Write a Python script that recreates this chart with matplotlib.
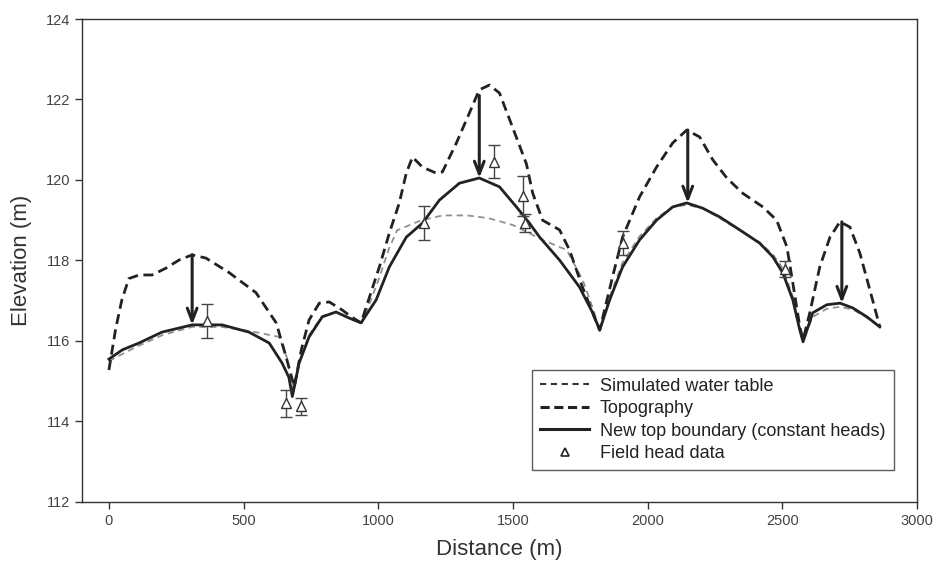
import matplotlib
matplotlib.use("Agg")
import matplotlib.pyplot as plt
from matplotlib.lines import Line2D

plt.rcParams['font.family'] = ['Liberation Sans', 'DejaVu Sans']

# topography (long dashed line)
topo_x = [0, 25, 48, 74, 112, 160, 212, 260, 309, 360, 446, 546, 621, 658, 688,
          715, 743, 781, 818, 866, 900, 936, 1004, 1041, 1078, 1104, 1127, 1164,
          1215, 1238, 1290, 1338, 1375, 1413, 1450, 1498, 1550, 1573, 1610, 1673,
          1710, 1758, 1796, 1822, 1870, 1907, 1970, 2033, 2093, 2145, 2193, 2242,
          2294, 2353, 2428, 2479, 2517, 2539, 2565, 2577, 2602, 2639, 2677, 2714,
          2751, 2788, 2825, 2862]
topo_y = [115.28, 116.3, 117.02, 117.55, 117.64, 117.64, 117.81, 118.01, 118.14,
          118.06, 117.7, 117.2, 116.45, 115.6, 114.86, 115.8, 116.52, 116.94,
          116.97, 116.77, 116.6, 116.45, 117.84, 118.68, 119.43, 120.17, 120.57,
          120.32, 120.17, 120.2, 120.92, 121.66, 122.24, 122.36, 122.16, 121.32,
          120.4, 119.68, 119.0, 118.76, 118.26, 117.34, 116.7, 116.27, 117.6,
          118.58, 119.58, 120.32, 120.92, 121.24, 121.07, 120.5, 120.05, 119.67,
          119.33, 119.0, 118.34, 117.44, 116.35, 116.03, 116.7, 117.84, 118.58,
          118.96, 118.83, 118.18, 117.27, 116.35]

# new top boundary (solid line)
new_x = [0, 50, 112, 197, 309, 420, 520, 595, 643, 668, 681, 706, 743, 792, 843,
         892, 936, 992, 1041, 1104, 1164, 1227, 1301, 1375, 1450, 1513, 1561,
         1599, 1673, 1747, 1796, 1822, 1859, 1907, 1970, 2033, 2093, 2145, 2204,
         2268, 2342, 2416, 2465, 2502, 2539, 2565, 2577, 2613, 2665, 2714, 2762,
         2814, 2862]
new_y = [115.55, 115.78, 115.95, 116.22, 116.4, 116.4, 116.22, 115.95, 115.45,
         115.1, 114.62, 115.45, 116.1, 116.6, 116.72, 116.57, 116.45, 117.02,
         117.84, 118.58, 118.93, 119.5, 119.92, 120.05, 119.83, 119.33, 118.93,
         118.58, 118.01, 117.34, 116.7, 116.27, 117.02, 117.84, 118.51, 119.0,
         119.33, 119.43, 119.3, 119.08, 118.76, 118.43, 118.09, 117.69, 117.02,
         116.27, 115.98, 116.7, 116.9, 116.94, 116.82, 116.6, 116.35]

# simulated water table (short dashed grey line)
wt_x = [0, 100, 200, 309, 420, 500, 560, 632, 660, 686, 706, 743, 792, 843, 892,
        940, 1000, 1040, 1070, 1160, 1240, 1330, 1410, 1500, 1560, 1610, 1700,
        1760, 1800, 1822, 1859, 1907, 1970, 2033, 2093, 2145, 2204, 2268, 2342,
        2416, 2465, 2502, 2539, 2565, 2577, 2613, 2665, 2714, 2762, 2814, 2862]
wt_y = [115.5, 115.85, 116.15, 116.35, 116.35, 116.27, 116.2, 116.1, 115.6,
        114.75, 115.45, 116.15, 116.62, 116.72, 116.57, 116.45, 117.5, 118.3,
        118.75, 119.0, 119.12, 119.12, 119.05, 118.88, 118.68, 118.51, 118.26,
        117.5, 116.75, 116.27, 117.1, 117.95, 118.6, 119.05, 119.33, 119.38,
        119.3, 119.05, 118.75, 118.45, 118.15, 117.8, 117.1, 116.3, 116.0, 116.6,
        116.8, 116.85, 116.78, 116.58, 116.35]

# field head data with error bars
field_x = [364, 658, 713, 1171, 1428, 1538, 1545, 1907, 2509]
field_y = [116.5, 114.45, 114.38, 118.93, 120.45, 119.6, 118.93, 118.43, 117.78]
field_err = [0.42, 0.34, 0.21, 0.42, 0.41, 0.5, 0.22, 0.3, 0.2]

# arrows from topography down to the new boundary
arrow_x = [309, 1375, 2149, 2721]
arrow_top = [118.14, 122.1, 121.24, 118.96]
arrow_bot = [116.4, 120.05, 119.43, 116.94]


def main():
    fig = plt.figure(figsize=(9.38, 5.69), dpi=100)
    ax = fig.add_axes([0.0874, 0.1178, 0.8902, 0.8488])

    ax.plot(wt_x, wt_y, color='#909090', lw=1.3, dashes=(3.5, 2.5),
            label='Simulated water table')
    ax.plot(topo_x, topo_y, color='#222222', lw=2.0, dashes=(3.6, 2.0),
            label='Topography')
    ax.plot(new_x, new_y, color='#222222', lw=2.0,
            label='New top boundary (constant heads)')
    ax.errorbar(field_x, field_y, yerr=field_err, fmt='^', ms=6.5, mfc='white',
                mec='#333333', mew=1.0, ecolor='#444444', elinewidth=1.0,
                capsize=4, capthick=1.0)

    for x, y0, y1 in zip(arrow_x, arrow_top, arrow_bot):
        ax.annotate('', xy=(x, y1), xytext=(x, y0),
                    arrowprops=dict(arrowstyle='->, head_width=0.35, head_length=0.9',
                                    color='#222222', lw=2.2, shrinkA=0, shrinkB=0))

    ax.set_xlim(-100, 3000)
    ax.set_ylim(112, 124)
    ax.set_xticks(range(0, 3001, 500))
    ax.set_yticks(range(112, 125, 2))
    ax.tick_params(direction='out', length=5, width=1, labelsize=10.5,
                   colors='#333333', labelcolor='#444444')
    for s in ax.spines.values():
        s.set_color('#333333')
        s.set_linewidth(1.0)
    ax.set_xlabel('Distance (m)', fontsize=16, color='#333333', labelpad=8)
    ax.set_ylabel('Elevation (m)', fontsize=16, color='#333333', labelpad=10)

    handles = [
        Line2D([], [], color='#333333', lw=1.5, dashes=(3.0, 2.2)),
        Line2D([], [], color='#222222', lw=2.2, dashes=(3.0, 1.5)),
        Line2D([], [], color='#222222', lw=2.2),
        Line2D([], [], ls='none', marker='^', ms=6, mfc='white', mec='#222222', mew=1.2),
    ]
    labels = ['Simulated water table', 'Topography',
              'New top boundary (constant heads)', 'Field head data']
    leg = ax.legend(handles, labels, loc='lower right', bbox_to_anchor=(0.972, 0.066),
                    fontsize=13, frameon=True, fancybox=False, handlelength=2.7,
                    labelspacing=0.3, borderpad=0.45, handletextpad=0.6,
                    borderaxespad=0)
    leg.get_frame().set_edgecolor('#333333')
    leg.get_frame().set_linewidth(1.0)
    for t in leg.get_texts():
        t.set_color('#222222')

    fig.savefig('out.png', dpi=100)
    plt.close(fig)


if __name__ == '__main__':
    main()
